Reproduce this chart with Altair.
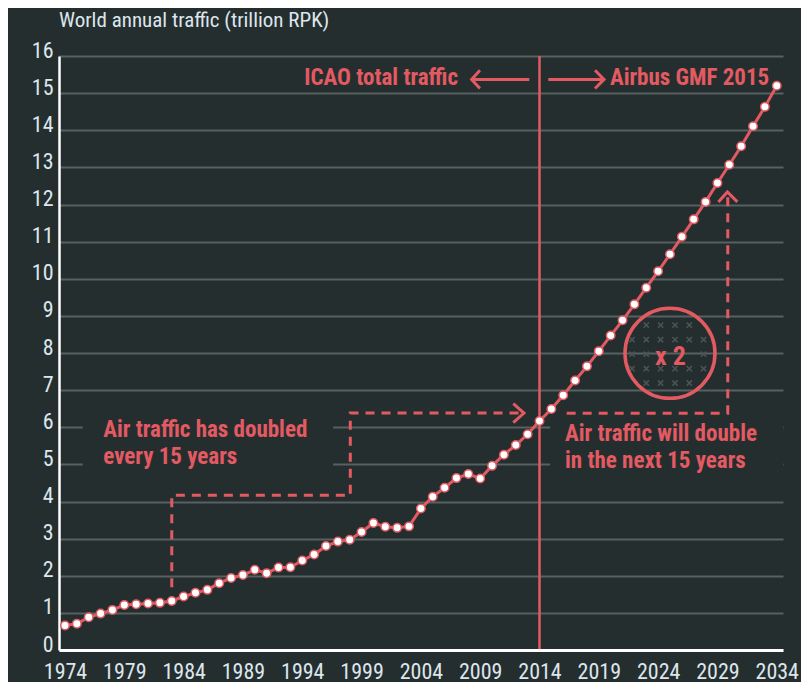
import altair as alt
import pandas as pd

# ---------------- data ----------------
YEARS = list(range(1974, 2035))
TRAFFIC = [
    0.66, 0.71, 0.88, 0.98, 1.08, 1.21, 1.23, 1.25, 1.27, 1.32,   # 1974-1983
    1.44, 1.54, 1.62, 1.80, 1.94, 2.02, 2.16, 2.07, 2.22, 2.23,   # 1984-1993
    2.41, 2.57, 2.80, 2.92, 2.97, 3.18, 3.42, 3.32, 3.29, 3.33,   # 1994-2003
    3.81, 4.13, 4.37, 4.63, 4.74, 4.62, 4.96, 5.26, 5.52, 5.81,   # 2004-2013
    6.17, 6.49, 6.86, 7.26, 7.64, 8.05, 8.47, 8.88, 9.31, 9.76,   # 2014-2023
    10.20, 10.66, 11.13, 11.60, 12.07, 12.58, 13.07, 13.57, 14.11, 14.63,  # 2024-2033
    15.20,                                                        # 2034
]
X_TICKS = [1974, 1979, 1984, 1989, 1994, 1999, 2004, 2009, 2014, 2019, 2024, 2029, 2034]
Y_TICKS = list(range(0, 17))

# annotation anchors (data units)
SPLIT_YEAR = 2014
DASH_PATHS = {
    "past": [(1983.0, 1.69), (1983.0, 4.165), (1998.05, 4.165), (1998.05, 6.383), (2012.69, 6.383)],
    "future": [(2016.29, 6.38), (2029.87, 6.38), (2029.87, 12.30)],
}
SOLID_PATHS = {
    "left_shaft": [(2008.28, 15.37), (2013.14, 15.37)],
    "left_head": [(2008.98, 15.615), (2008.28, 15.37), (2008.98, 15.125)],
    "right_shaft": [(2014.74, 15.37), (2019.44, 15.37)],
    "right_head": [(2018.68, 15.615), (2019.44, 15.37), (2018.68, 15.125)],
    "past_head": [(2011.79, 6.636), (2012.69, 6.383), (2011.79, 6.124)],
    "future_head": [(2029.08, 12.07), (2029.84, 12.34), (2030.68, 12.07)],
}
COVER_X = [(1975.5, 1996.6), (2014.9, 2034.527)]
COVER_Y = [(4.5, 6.3), (4.5, 6.3)]
CIRCLE_CENTER = (2025.0, 7.99)
PATTERN_COLS = [2021.80, 2023.00, 2024.21, 2025.42, 2026.63, 2027.83]
PATTERN_ROWS = [8.75, 8.36, 7.97, 7.58, 7.19]
PATTERN_MASK = [
    [0, 1, 1, 1, 1, 0],
    [1, 1, 1, 1, 1, 1],
    [1, 1, 0, 0, 0, 1],
    [1, 1, 1, 1, 1, 1],
    [0, 1, 1, 1, 1, 0],
]

# ---------------- style ----------------
RED = "#e35a62"
BG = "#252e2f"
GRID = "#596061"
LABEL = "#dde6ec"
PATTERN = "#4b5556"
FONT = "Roboto Condensed, Roboto, sans-serif"

XDOM = [1973.494, 2034.527]
xscale = alt.Scale(domain=XDOM, nice=False, zero=False)
yscale = alt.Scale(domain=[0, 16], nice=False, zero=False)

x_axis = alt.Axis(values=X_TICKS, format="d", title=None, grid=False, ticks=False,
                  domainColor="white", domainWidth=3, labelColor=LABEL, labelFont=FONT,
                  labelFontSize=22, labelPadding=11, labelFlush=False, zindex=1)
y_axis = alt.Axis(values=Y_TICKS, title=None, grid=True, gridColor=GRID, gridWidth=2,
                  ticks=False, domainColor="white", domainWidth=2.5, labelColor=LABEL,
                  labelFont=FONT, labelFontSize=22, labelPadding=6,
                  labelBaseline="alphabetic", labelOffset=1)


def X(field):
    return alt.X(f"{field}:Q", scale=xscale, axis=x_axis)


def Y(field):
    return alt.Y(f"{field}:Q", scale=yscale, axis=y_axis)


series = pd.DataFrame({"year": YEARS, "value": TRAFFIC})

covers = pd.DataFrame({
    "x": [c[0] for c in COVER_X], "x2": [c[1] for c in COVER_X],
    "y": [c[0] for c in COVER_Y], "y2": [c[1] for c in COVER_Y],
})


def paths_df(paths):
    rows = []
    for key, pts in paths.items():
        for k, (px, py) in enumerate(pts):
            rows.append({"id": key, "k": k, "x": px, "y": py})
    return pd.DataFrame(rows)


dash_df = paths_df(DASH_PATHS)
solid_df = paths_df(SOLID_PATHS)

pattern_rows = []
for i, vy in enumerate(PATTERN_ROWS):
    for j, vx in enumerate(PATTERN_COLS):
        if PATTERN_MASK[i][j]:
            pattern_rows.append({"x": vx, "y": vy})
pattern_df = pd.DataFrame(pattern_rows)

cover_layer = alt.Chart(covers).mark_rect(color=BG).encode(
    x=X("x"), x2="x2", y=Y("y"), y2="y2")

split_layer = alt.Chart(pd.DataFrame({"x": [SPLIT_YEAR], "y": [0], "y2": [16]})).mark_rule(
    color=RED, strokeWidth=2.5).encode(x=X("x"), y=Y("y"), y2="y2")

dash_layer = alt.Chart(dash_df).mark_line(
    color=RED, strokeWidth=3, strokeDash=[9, 7], strokeCap="butt", strokeJoin="miter").encode(
    x=X("x"), y=Y("y"), detail="id:N", order="k:Q")

solid_layer = alt.Chart(solid_df).mark_line(
    color=RED, strokeWidth=3, strokeJoin="miter").encode(
    x=X("x"), y=Y("y"), detail="id:N", order="k:Q")

pattern_layer = alt.Chart(pattern_df).mark_point(
    shape="M-1,-1L1,1M-1,1L1,-1", size=28, filled=False, color=PATTERN, strokeWidth=1.6,
    opacity=1).encode(x=X("x"), y=Y("y"))

circle_layer = alt.Chart(pd.DataFrame({"x": [CIRCLE_CENTER[0]], "y": [CIRCLE_CENTER[1]]})).mark_point(
    shape="circle", size=8100, filled=False, color=RED, strokeWidth=3.5, opacity=1).encode(
    x=X("x"), y=Y("y"))

line_layer = alt.Chart(series).mark_line(color=RED, strokeWidth=3).encode(
    x=X("year"), y=Y("value"))

point_layer = alt.Chart(series).mark_point(
    shape="circle", size=72, filled=True, fill="white", stroke=RED, strokeWidth=1.5,
    opacity=1).encode(x=X("year"), y=Y("value"))

texts = pd.DataFrame([
    {"x": 2007.13, "y": 15.22, "t": "ICAO total traffic", "a": "right"},
    {"x": 2019.94, "y": 15.22, "t": "Airbus GMF 2015", "a": "left"},
])
text_right = alt.Chart(texts[texts.a == "right"]).mark_text(
    font=FONT, fontSize=23, fontWeight="bold", color=RED, align="right", baseline="alphabetic").encode(
    x=X("x"), y=Y("y"), text="t:N")
text_left = alt.Chart(texts[texts.a == "left"]).mark_text(
    font=FONT, fontSize=23, fontWeight="bold", color=RED, align="left", baseline="alphabetic").encode(
    x=X("x"), y=Y("y"), text="t:N")

past_note = alt.Chart(pd.DataFrame({"x": [1977.23], "y": [5.724]})).mark_text(
    font=FONT, fontSize=23, fontWeight="bold", color=RED, align="left", baseline="alphabetic",
    lineHeight=27, text=["Air traffic has doubled", "every 15 years"]).encode(x=X("x"), y=Y("y"))

future_note = alt.Chart(pd.DataFrame({"x": [2016.15], "y": [5.639]})).mark_text(
    font=FONT, fontSize=23, fontWeight="bold", color=RED, align="left", baseline="alphabetic",
    lineHeight=27, text=["Air traffic will double", "in the next 15 years"]).encode(x=X("x"), y=Y("y"))

x2_note = alt.Chart(pd.DataFrame({"x": [2025.04], "y": [7.68]})).mark_text(
    font=FONT, fontSize=26, fontWeight="bold", color=RED, align="center", baseline="alphabetic",
    text="x 2").encode(x=X("x"), y=Y("y"))

title_layer = alt.Chart(pd.DataFrame({"t": ["World annual traffic (trillion RPK)"]})).mark_text(
    font=FONT, fontSize=21, color=LABEL, align="left", baseline="alphabetic").encode(
    x=alt.value(0), y=alt.value(-29.5), text="t:N")

chart = alt.layer(
    cover_layer, split_layer, dash_layer, solid_layer, pattern_layer, circle_layer,
    line_layer, point_layer, text_right, text_left, past_note, future_note, x2_note, title_layer,
).properties(
    width=724, height=594,
    background=BG,
    padding={"left": 51, "top": 48, "right": 18, "bottom": 32},
    autosize=alt.AutoSizeParams(type="none"),
).configure_view(stroke=None)

chart.save("out.html", embed_options={"renderer": "svg", "actions": False})
